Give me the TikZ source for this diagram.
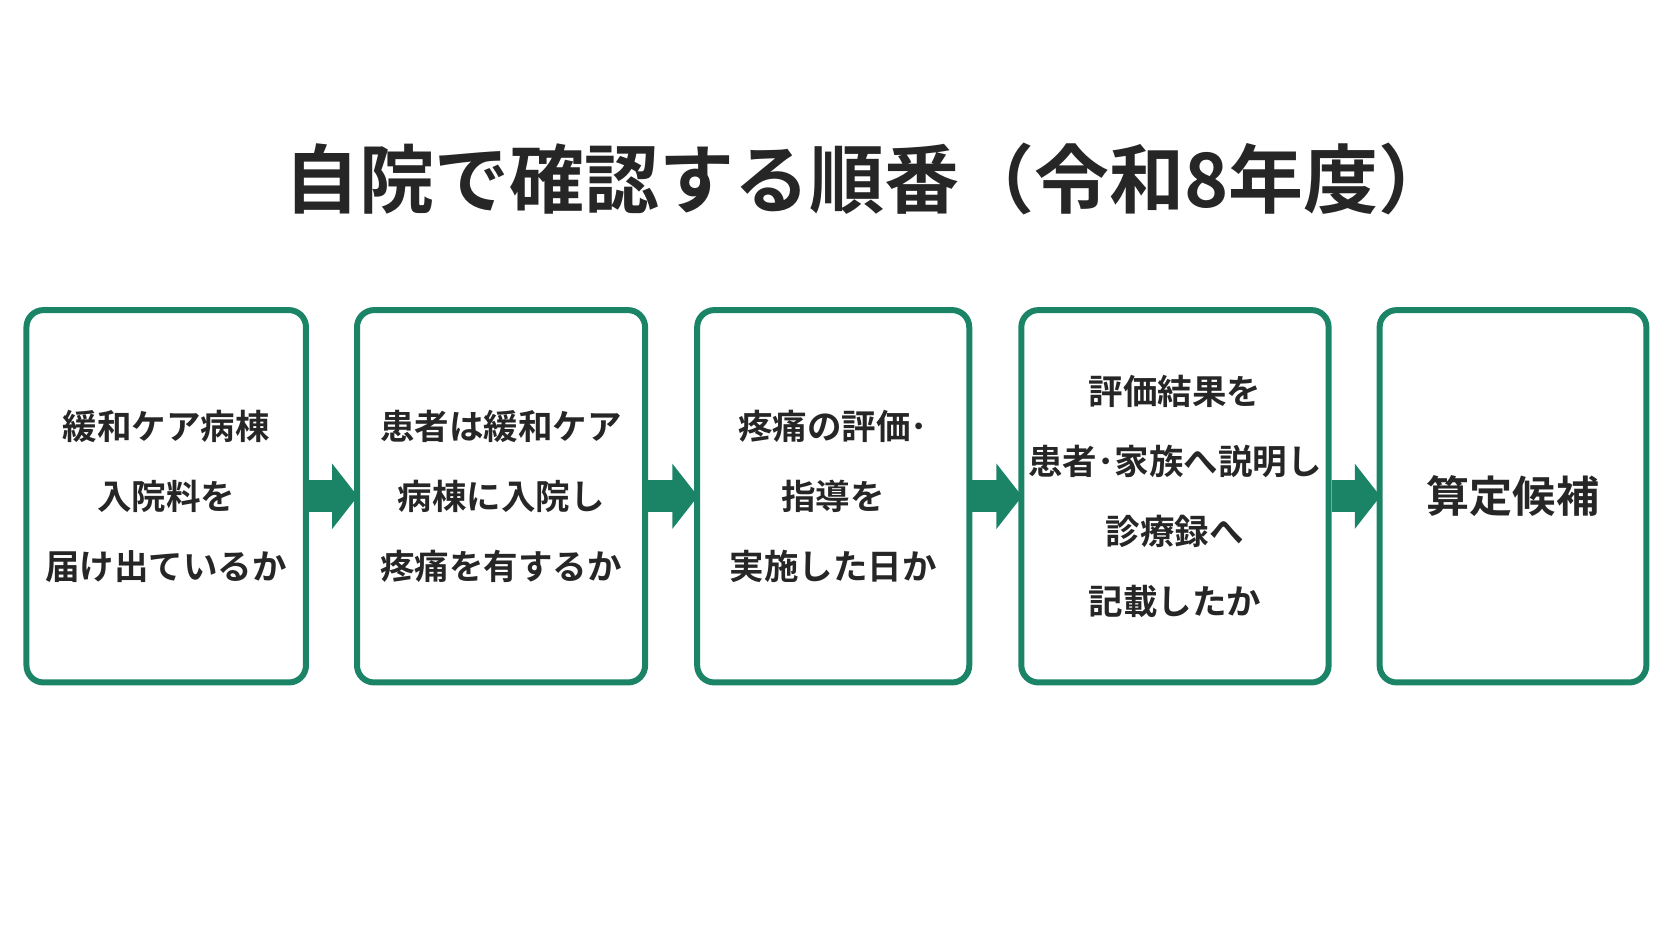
\documentclass[tikz,border=0pt]{standalone}
\usepackage{fontspec}
\setmainfont{Noto Sans CJK JP}[BoldFont={* Bold}]
\usetikzlibrary{positioning,arrows.meta}
\definecolor{stepgreen}{HTML}{1B8467}
\tikzset{
  checkbox/.style={draw=stepgreen, line width=1.6pt, rounded corners=0.16cm,
    minimum height=3.49cm, align=center, inner sep=0pt,
    font=\bfseries\fontsize{9.2}{18.7}\selectfont,
    text=black!85, anchor=north west},
  flow/.style={stepgreen, line width=0.3cm, -{Triangle[length=0.24cm, width=0.6cm]}, shorten >=-1pt},
}
\begin{document}
\begin{tikzpicture}[x=0.01cm, y=0.01cm]
\useasboundingbox (0,0) rectangle (1568,-882);

% title
\node[font=\bfseries\fontsize{20}{24}\selectfont, text=black!85] (title) at (815,-168)
  {自院で確認する順番（令和8年度）};

% steps
\node[checkbox, minimum width=2.62cm, text width=2.5cm] (s1) at (22,-288) {緩和ケア病棟\\入院料を\\届け出ているか};
\node[checkbox, minimum width=2.70cm, text width=2.6cm] (s2) at (332,-288) {患者は緩和ケア\\病棟に入院し\\疼痛を有するか};
\node[checkbox, minimum width=2.55cm, text width=2.45cm] (s3) at (651,-288) {疼痛の評価･\\指導を\\実施した日か};
\node[checkbox, minimum width=2.88cm, text width=2.8cm] (s4) at (955,-288) {評価結果を\\患者･家族へ説明し\\診療録へ\\記載したか};
\node[checkbox, minimum width=2.50cm, text width=2.4cm, font=\bfseries\fontsize{11.5}{14}\selectfont] (s5) at (1291,-288) {算定候補};

% arrows
\foreach \a/\b in {s1/s2, s2/s3, s3/s4, s4/s5}
  \draw[flow] (\a.east) -- (\b.west);
\end{tikzpicture}
\end{document}
